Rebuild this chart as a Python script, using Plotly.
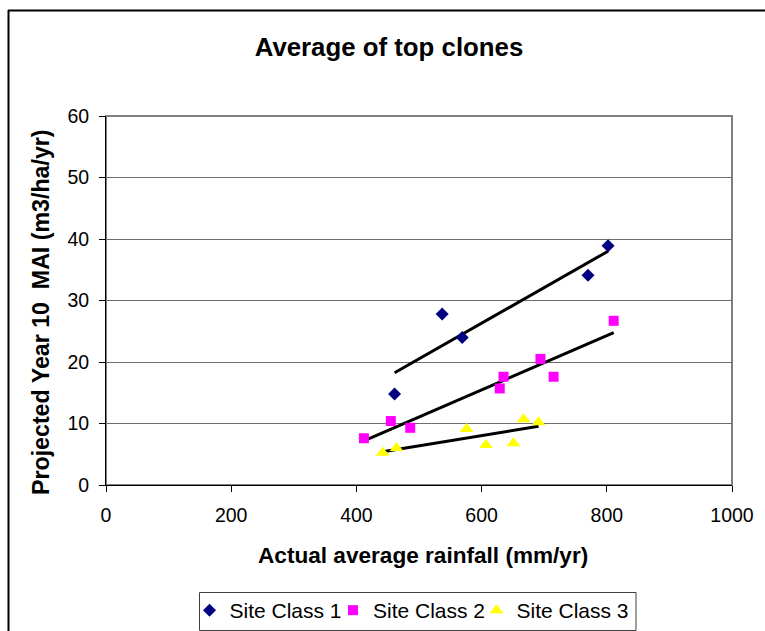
import numpy as np
import plotly.graph_objects as go

# Data
c1_x = [461, 537, 569, 770, 802]
c1_y = [14.8, 27.8, 24.0, 34.1, 38.9]
c2_x = [412, 455, 486, 629, 635, 694, 715, 811]
c2_y = [7.6, 10.4, 9.3, 15.7, 17.6, 20.5, 17.6, 26.7]
c3_x = [442, 464, 576, 607, 651, 667, 691]
c3_y = [5.25, 6.0, 9.1, 6.5, 6.8, 10.7, 10.2]

series_names = ["Site Class 1", "Site Class 2", "Site Class 3"]
x_ticks = [0, 200, 400, 600, 800, 1000]
y_ticks = [0, 10, 20, 30, 40, 50, 60]

FONT = "Liberation Sans, Arial, sans-serif"

W, H = 765, 631
ML, MT, PW, PH = 106, 116, 626, 369


def px_x(ref_px):  # reference pixel -> paper x
    return (ref_px - ML) / PW


def px_y(ref_py):  # reference pixel -> paper y
    return (MT + PH - ref_py) / PH


fig = go.Figure()

styles = [
    dict(symbol="diamond", color="#000080", size=10),
    dict(symbol="square", color="#FF00FF", size=10),
    dict(symbol="triangle-up", color="#FFFF00", size=12),
]
data = [(c1_x, c1_y), (c2_x, c2_y), (c3_x, c3_y)]
legend_ids = ["legend", "legend2", "legend3"]
legend_left_px = [189.5, 333, 476.5]

# trendlines (linear least squares over each series' range)
for xs, ys in data:
    k, b = np.polyfit(xs, ys, 1)
    xr = [min(xs), max(xs)]
    fig.add_trace(go.Scatter(x=xr, y=[k * v + b for v in xr], mode="lines",
                             line=dict(color="black", width=3), showlegend=False,
                             hoverinfo="skip"))

for (xs, ys), name, st, lid in zip(data, series_names, styles, legend_ids):
    fig.add_trace(go.Scatter(x=xs, y=ys, mode="markers", name=name, legend=lid,
                             marker=dict(symbol=st["symbol"], color=st["color"],
                                         size=st["size"], line=dict(width=0))))

legend_common = dict(orientation="h", xanchor="left", y=px_y(590), yanchor="top",
                     borderwidth=0, bgcolor="rgba(0,0,0,0)", font=dict(size=21),
                     itemwidth=30)

fig.update_layout(
    width=W, height=H,
    margin=dict(l=ML, r=W - ML - PW, t=MT, b=H - MT - PH, autoexpand=False),
    paper_bgcolor="white", plot_bgcolor="white",
    font=dict(family=FONT, size=19.5, color="black"),
    title=dict(text="<b>Average of top clones</b>", x=389 / W, xanchor="center",
               y=1 - 47 / H, yanchor="middle", font=dict(size=25.8, family=FONT)),
    showlegend=True,
    legend=dict(x=px_x(legend_left_px[0]), **legend_common),
    legend2=dict(x=px_x(legend_left_px[1]), **legend_common),
    legend3=dict(x=px_x(legend_left_px[2]), **legend_common),
)

fig.update_xaxes(range=[0, 1000], tickvals=x_ticks, showgrid=False, zeroline=False,
                 showline=True, linecolor="black", linewidth=1,
                 ticks="outside", ticklen=6, tickcolor="black",
                 ticklabelstandoff=7, fixedrange=True)
fig.update_yaxes(range=[0, 60], tickvals=y_ticks, showgrid=True, gridcolor="#6e6e6e",
                 gridwidth=1, zeroline=False, showline=True, linecolor="black",
                 linewidth=1, ticks="outside", ticklen=6, tickcolor="black",
                 ticklabelstandoff=6, fixedrange=True)

# plot area border (top/right in grey)
fig.add_shape(type="rect", xref="paper", yref="paper", x0=0, x1=1, y0=0, y1=1,
              line=dict(color="#808080", width=2), layer="below")
# outer chart border: top and left edges
fig.add_shape(type="line", xref="paper", yref="paper",
              x0=px_x(8), x1=px_x(765), y0=px_y(10.5), y1=px_y(10.5),
              line=dict(color="black", width=2))
fig.add_shape(type="line", xref="paper", yref="paper",
              x0=px_x(8.5), x1=px_x(8.5), y0=px_y(10), y1=px_y(631),
              line=dict(color="black", width=2))
# legend frame
fig.add_shape(type="rect", xref="paper", yref="paper",
              x0=px_x(199.5), x1=px_x(636), y0=px_y(630.5), y1=px_y(592.5),
              line=dict(color="#404040", width=1))

fig.add_annotation(text="<b>Actual average rainfall (mm/yr)</b>", xref="paper", yref="paper",
                   x=px_x(422.5), y=px_y(555), xanchor="center",
                   yanchor="middle", showarrow=False, font=dict(size=22.6, family=FONT))
fig.add_annotation(text="<b>Projected Year 10\u00a0 MAI (m3/ha/yr)</b>", xref="paper",
                   yref="paper", x=px_x(41), y=px_y(312),
                   xanchor="center", yanchor="middle", textangle=-90, showarrow=False,
                   font=dict(size=23.2, family=FONT))

page_css = ("document.body.style.margin='0';"
            "document.body.style.overflow='hidden';"
            "document.documentElement.style.overflow='hidden';")

fig.write_html("out.html", post_script=page_css, config={"displayModeBar": False})
